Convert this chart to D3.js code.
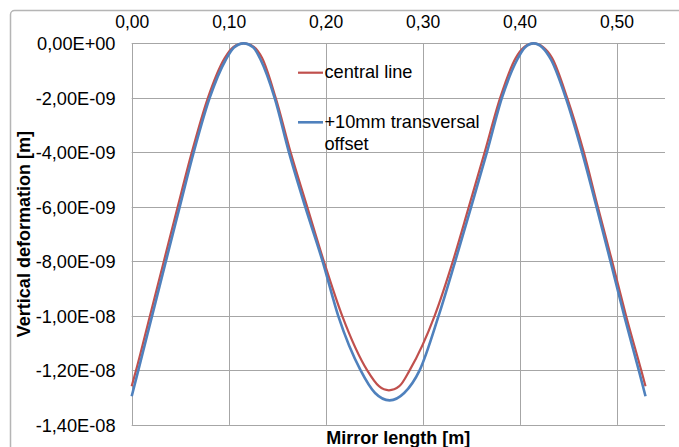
<!DOCTYPE html>
<html>
<head>
<meta charset="utf-8">
<script src="https://cdn.jsdelivr.net/npm/d3@7"></script>
<style>
  html, body { margin: 0; padding: 0; background: #ffffff; }
  svg { display: block; }
  text { font-family: "Liberation Sans", Arial, sans-serif; fill: #000; }
</style>
</head>
<body>
<svg id="chart" width="679" height="447"></svg>
<script>
// Axis ticks and labels
const xTicks = [0, 0.1, 0.2, 0.3, 0.4, 0.5];
const xTickLabels = ["0,00", "0,10", "0,20", "0,30", "0,40", "0,50"];
const yTicks = [0, -2e-9, -4e-9, -6e-9, -8e-9, -1e-8, -1.2e-8, -1.4e-8];
const yTickLabels = ["0,00E+00", "-2,00E-09", "-4,00E-09", "-6,00E-09",
                     "-8,00E-09", "-1,00E-08", "-1,20E-08", "-1,40E-08"];

// Series names
const seriesNames = ["central line", "+10mm transversal offset"];

// Central line: position along mirror [m] and vertical deformation [m]
const centralX = [0.000, 0.0045, 0.0188, 0.0331, 0.0474, 0.0620, 0.0786, 0.0959, 0.1050,
                  0.1155, 0.1260, 0.1345, 0.1485, 0.1639, 0.1810, 0.1982, 0.2171, 0.2429,
                  0.2550, 0.2653, 0.2760, 0.2866, 0.3124, 0.3312, 0.3477, 0.3640, 0.3800,
                  0.3960, 0.4050, 0.4145, 0.4240, 0.4336, 0.4491, 0.4663, 0.4807, 0.4955,
                  0.5099, 0.5255, 0.5299];
const centralY = [-12.58e-9, -12.0e-9, -10.0e-9, -8.0e-9, -6.0e-9, -4.0e-9, -2.0e-9, -0.54e-9, -0.13e-9,
                  0, -0.13e-9, -0.54e-9, -2.0e-9, -4.0e-9, -6.0e-9, -8.0e-9, -10.0e-9, -12.0e-9,
                  -12.58e-9, -12.73e-9, -12.58e-9, -12.0e-9, -10.0e-9, -8.0e-9, -6.0e-9, -4.0e-9, -2.0e-9,
                  -0.54e-9, -0.13e-9, 0, -0.13e-9, -0.54e-9, -2.0e-9, -4.0e-9, -6.0e-9, -8.0e-9,
                  -10.0e-9, -12.0e-9, -12.58e-9];

// +10 mm transversal offset
const offsetX = [0.000, 0.0068, 0.0210, 0.0352, 0.0495, 0.0639, 0.0804, 0.0970, 0.1055,
                 0.1155, 0.1255, 0.1330, 0.1474, 0.1622, 0.1790, 0.1969, 0.2130, 0.2361,
                 0.2510, 0.2660, 0.2810, 0.2969, 0.3165, 0.3336, 0.3501, 0.3663, 0.3818,
                 0.3975, 0.4055, 0.4145, 0.4235, 0.4325, 0.4477, 0.4645, 0.4794, 0.4938,
                 0.5080, 0.5230, 0.5299];
const offsetY = [-12.95e-9, -12.0e-9, -10.0e-9, -8.0e-9, -6.0e-9, -4.0e-9, -2.0e-9, -0.6e-9, -0.15e-9,
                 0, -0.15e-9, -0.6e-9, -2.0e-9, -4.0e-9, -6.0e-9, -8.0e-9, -10.0e-9, -12.0e-9,
                 -12.83e-9, -13.1e-9, -12.83e-9, -12.0e-9, -10.0e-9, -8.0e-9, -6.0e-9, -4.0e-9, -2.0e-9,
                 -0.6e-9, -0.15e-9, 0, -0.15e-9, -0.6e-9, -2.0e-9, -4.0e-9, -6.0e-9, -8.0e-9,
                 -10.0e-9, -12.0e-9, -12.95e-9];

const redColor = "#c0504d";
const blueColor = "#4f81bd";
const gridColor = "#a6a6a6";

const svg = d3.select("#chart");

// Chart frame
svg.append("rect")
  .attr("x", 10.5).attr("y", 10.5)
  .attr("width", 700).attr("height", 500)
  .attr("rx", 4)
  .attr("fill", "#ffffff")
  .attr("stroke", "#b5b5b5")
  .attr("stroke-width", 1.5);

const plot = { left: 131.7, right: 665, top: 43.4, bottom: 424.9 };

const x = d3.scaleLinear().domain([0, 0.55]).range([plot.left, plot.right]);
const y = d3.scaleLinear().domain([-1.4e-8, 0]).range([plot.bottom, plot.top]);

// Gridlines
const grid = svg.append("g");
grid.selectAll("line.h").data(yTicks).join("line")
  .attr("class", "h")
  .attr("x1", plot.left).attr("x2", plot.right)
  .attr("y1", d => Math.round(y(d)) + 0.5).attr("y2", d => Math.round(y(d)) + 0.5)
  .attr("stroke", gridColor).attr("stroke-width", 1);
grid.selectAll("line.v").data(xTicks).join("line")
  .attr("class", "v")
  .attr("x1", d => Math.round(x(d)) + 0.5).attr("x2", d => Math.round(x(d)) + 0.5)
  .attr("y1", plot.top).attr("y2", plot.bottom)
  .attr("stroke", gridColor).attr("stroke-width", 1);

// Axes (labels only; lines come from the grid)
const xAxis = d3.axisTop(x)
  .tickValues(xTicks)
  .tickFormat((d, i) => xTickLabels[i])
  .tickSize(0).tickPadding(0);
const gx = svg.append("g").attr("transform", "translate(0,27.7)").call(xAxis);
gx.select(".domain").remove();
gx.selectAll("text")
  .attr("font-size", 17.5).attr("font-family", "Liberation Sans, Arial, sans-serif")
  .attr("dy", 0).attr("y", 0);

const yAxis = d3.axisLeft(y)
  .tickValues(yTicks)
  .tickFormat((d, i) => yTickLabels[i])
  .tickSize(0).tickPadding(0);
const gy = svg.append("g").attr("transform", "translate(115.5,0)").call(yAxis);
gy.select(".domain").remove();
gy.selectAll("text")
  .attr("font-size", 18.2).attr("font-family", "Liberation Sans, Arial, sans-serif")
  .attr("dy", "0.34em").attr("x", 0);

// Axis titles
svg.append("text")
  .attr("x", (plot.left + plot.right) / 2).attr("y", 444)
  .attr("text-anchor", "middle")
  .attr("font-size", 18).attr("font-weight", "bold")
  .text("Mirror length [m]");

svg.append("text")
  .attr("transform", `translate(29.5,${(plot.top + plot.bottom) / 2}) rotate(-90)`)
  .attr("text-anchor", "middle")
  .attr("font-size", 18).attr("font-weight", "bold")
  .text("Vertical deformation [m]");

// Series
const line = d3.line()
  .x(d => x(d[0]))
  .y(d => y(d[1]))
  .curve(d3.curveMonotoneX);

const centralData = centralX.map((v, i) => [v, centralY[i]]);
const offsetData = offsetX.map((v, i) => [v, offsetY[i]]);

svg.append("path")
  .datum(centralData)
  .attr("d", line)
  .attr("fill", "none")
  .attr("stroke", redColor)
  .attr("stroke-width", 2.2);

svg.append("path")
  .datum(offsetData)
  .attr("d", line)
  .attr("fill", "none")
  .attr("stroke", blueColor)
  .attr("stroke-width", 2.6);

// Legend
const legend = svg.append("g");
legend.append("line")
  .attr("x1", 298).attr("x2", 323).attr("y1", 72.7).attr("y2", 72.7)
  .attr("stroke", redColor).attr("stroke-width", 2.2);
legend.append("text")
  .attr("x", 324.5).attr("y", 77.6)
  .attr("font-size", 18.2)
  .text(seriesNames[0]);

legend.append("line")
  .attr("x1", 298).attr("x2", 323).attr("y1", 122.3).attr("y2", 122.3)
  .attr("stroke", blueColor).attr("stroke-width", 2.6);
const offsetLabel = legend.append("text")
  .attr("x", 324.5).attr("y", 127.6)
  .attr("font-size", 18.2);
offsetLabel.append("tspan").attr("x", 324.5).text("+10mm transversal");
offsetLabel.append("tspan").attr("x", 324.5).attr("dy", 22).text("offset");
</script>
</body>
</html>
